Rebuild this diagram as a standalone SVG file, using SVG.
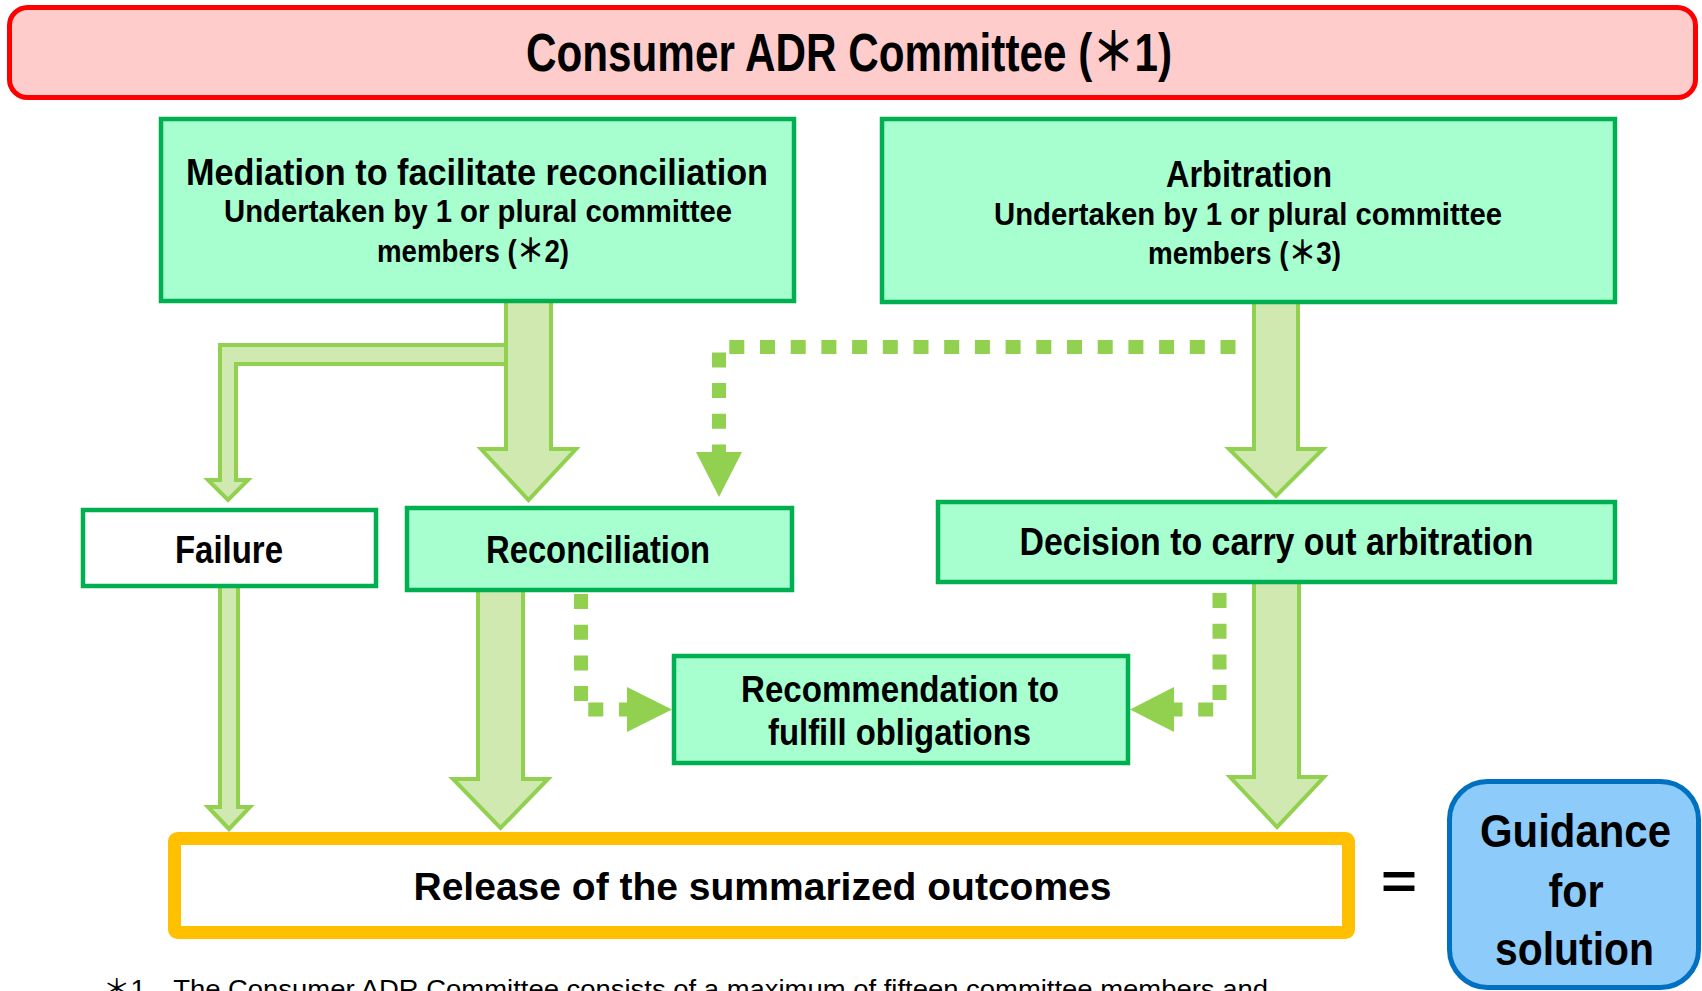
<svg xmlns="http://www.w3.org/2000/svg" width="1702" height="991" viewBox="0 0 1702 991">
<defs>
<style>
.t{font-family:"Liberation Sans","Noto Sans CJK JP",sans-serif;font-weight:bold;fill:#000;}
.box{fill:#A7FFCF;stroke:#00B050;stroke-width:4.5;}
.blk{fill:#CFE9B1;stroke:#92D050;stroke-width:4;stroke-linejoin:miter;}
.dot{fill:none;stroke:#92D050;stroke-width:14;stroke-dasharray:15 15.7;}
.head{fill:#92D050;}
</style>
</defs>
<rect width="1702" height="991" fill="#FFFFFF"/>

<g id="connectors">
  <path class="blk" d="M506,345 L220,345 L220,480 L208,480 L228,500 L248,480 L236,480 L236,364 L506,364"/>
  <path class="blk" d="M506,300 L506,449 L481,449 L528.5,500 L576,449 L551,449 L551,300"/>
  <path class="blk" d="M1254,300 L1254,449 L1229,449 L1276,496 L1323,449 L1298,449 L1298,300"/>
  <path class="blk" d="M220,585 L220,807 L208,807 L229,829 L250,807 L238,807 L238,585"/>
  <path class="blk" d="M478,590 L478,779 L453,779 L500.5,828 L548,779 L523,779 L523,590"/>
  <path class="blk" d="M1254,582 L1254,777 L1230,777 L1277,827 L1324,777 L1299,777 L1299,582"/>
  <path class="dot" d="M1235.5,347 L719,347 L719,452"/>
  <polygon class="head" points="696,452 742,452 719,497"/>
  <path class="dot" d="M581,594 L581,709.5 L627,709.5"/>
  <polygon class="head" points="627,687 627,732 672,709.5"/>
  <path class="dot" d="M1219.5,593 L1219.5,709.5 L1174,709.5"/>
  <polygon class="head" points="1174,687 1174,732 1130,709.5"/>
</g>

<g id="committee">
  <rect x="9.5" y="7.5" width="1686" height="90" rx="18" fill="#FFCCCC" stroke="#FF0000" stroke-width="5"/>
  <text class="t" x="849" y="71" font-size="53" text-anchor="middle" textLength="646" lengthAdjust="spacingAndGlyphs">Consumer ADR Committee (＊1)</text>
</g>

<g id="mediation">
  <rect class="box" x="161" y="119" width="633" height="182"/>
  <text class="t" x="477" y="185" font-size="36" text-anchor="middle" textLength="582" lengthAdjust="spacingAndGlyphs">Mediation to facilitate reconciliation</text>
  <text class="t" x="478" y="222" font-size="32" text-anchor="middle" textLength="508" lengthAdjust="spacingAndGlyphs">Undertaken by 1 or plural committee</text>
  <text class="t" x="473" y="262" font-size="32" text-anchor="middle" textLength="192" lengthAdjust="spacingAndGlyphs">members (＊2)</text>
</g>

<g id="arbitration">
  <rect class="box" x="882" y="119" width="733" height="183"/>
  <text class="t" x="1249" y="187" font-size="36" text-anchor="middle" textLength="166" lengthAdjust="spacingAndGlyphs">Arbitration</text>
  <text class="t" x="1248" y="225" font-size="32" text-anchor="middle" textLength="508" lengthAdjust="spacingAndGlyphs">Undertaken by 1 or plural committee</text>
  <text class="t" x="1244.5" y="264" font-size="32" text-anchor="middle" textLength="193" lengthAdjust="spacingAndGlyphs">members (＊3)</text>
</g>

<g id="failure">
  <rect x="83" y="510" width="293" height="76" fill="#FFFFFF" stroke="#00B050" stroke-width="4.5"/>
  <text class="t" x="229" y="563" font-size="39" text-anchor="middle" textLength="108" lengthAdjust="spacingAndGlyphs">Failure</text>
</g>

<g id="reconciliation">
  <rect class="box" x="407" y="508" width="385" height="82"/>
  <text class="t" x="598" y="563" font-size="39" text-anchor="middle" textLength="224" lengthAdjust="spacingAndGlyphs">Reconciliation</text>
</g>

<g id="decision">
  <rect class="box" x="938" y="502" width="677" height="80"/>
  <text class="t" x="1276.5" y="555" font-size="39" text-anchor="middle" textLength="514" lengthAdjust="spacingAndGlyphs">Decision to carry out arbitration</text>
</g>

<g id="recommendation">
  <rect class="box" x="674" y="656" width="454" height="107"/>
  <text class="t" x="900" y="702" font-size="37" text-anchor="middle" textLength="318" lengthAdjust="spacingAndGlyphs">Recommendation to</text>
  <text class="t" x="899.5" y="745" font-size="37" text-anchor="middle" textLength="263" lengthAdjust="spacingAndGlyphs">fulfill obligations</text>
</g>

<g id="release">
  <rect x="174.5" y="838.5" width="1174" height="94" rx="3" fill="#FFFFFF" stroke="#FFC000" stroke-width="13"/>
  <text class="t" x="762.5" y="900" font-size="39" text-anchor="middle" textLength="698" lengthAdjust="spacingAndGlyphs">Release of the summarized outcomes</text>
</g>

<g id="equals">
  <text class="t" x="1399" y="899" font-size="50" text-anchor="middle" textLength="36" lengthAdjust="spacingAndGlyphs">=</text>
</g>

<g id="guidance">
  <rect x="1449.5" y="781.5" width="249" height="206" rx="38" fill="#8DCBFB" stroke="#0070C0" stroke-width="5"/>
  <text class="t" x="1575.5" y="847" font-size="47" text-anchor="middle" textLength="191" lengthAdjust="spacingAndGlyphs">Guidance</text>
  <text class="t" x="1576" y="907" font-size="47" text-anchor="middle" textLength="55" lengthAdjust="spacingAndGlyphs">for</text>
  <text class="t" x="1574.5" y="965" font-size="47" text-anchor="middle" textLength="159" lengthAdjust="spacingAndGlyphs">solution</text>
</g>

<g id="footnote">
  <text x="103" y="998" font-family="'Liberation Sans','Noto Sans CJK JP',sans-serif" font-size="26" fill="#000" textLength="1165" lengthAdjust="spacingAndGlyphs">＊1　The Consumer ADR Committee consists of a maximum of fifteen committee members and</text>
</g>
</svg>
